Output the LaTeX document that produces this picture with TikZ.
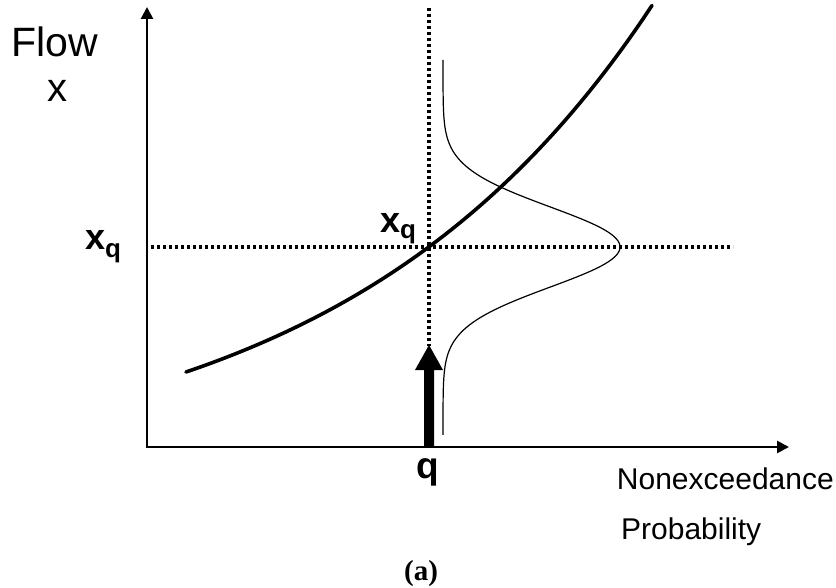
\documentclass[tikz,border=0pt]{standalone}
\usepackage{fontspec}
\setmainfont{Liberation Sans}
\newfontfamily\serifb{Liberation Serif}
\usetikzlibrary{arrows.meta}
\begin{document}
\begin{tikzpicture}[x=1pt,y=-1pt,
  axis/.style={line width=2.6pt,-{Triangle[width=12pt,length=12pt]}},
  dotline/.style={line width=3.5pt,dash pattern=on 3pt off 3pt},
  curve/.style={line width=3.6pt,line cap=round},
  pdfline/.style={line width=1.2pt},
  lbl/.style={inner sep=0pt,anchor=base}]
\useasboundingbox (0,0) rectangle (836,588);
\coordinate (O) at (147,447);
\coordinate (ytop) at (147,7);
\coordinate (xend) at (789,447);
\coordinate (vtop) at (429,8);
\coordinate (vbot) at (429,346);
\coordinate (hl) at (151,247);
\coordinate (hr) at (733,247);
% dotted guide lines
\draw[dotline] (vtop) -- (vbot);
\draw[dotline] (hl) -- (hr);
% axes
\draw[axis] (O) -- (ytop);
\draw[axis] ([xshift=-1.3pt]O) -- (xend);
% main curve
\draw[curve] plot[domain=0:466,samples=80,variable=\t]
  ({186+\t},{372-106.2*(exp(0.0032*\t)-1)});
% pdf
\draw[pdfline] plot[domain=60:435,samples=200,variable=\t]
  ({443+177*exp(-((\t-247)/40)^2/2)},{\t});
% thick arrow
\fill (424,447) -- (424,370) -- (415,370) -- (429,345) -- (443,370)
  -- (434,370) -- (434,447) -- cycle;
% labels
\node[lbl,anchor=base west] (flow) at (11,57) {\fontsize{41}{43}\selectfont Flow};
\node[lbl] (xlab) at (57,102) {\fontsize{40}{42}\selectfont x};
\node[lbl,anchor=base west] (xql) at (85,250)
  {\fontsize{36}{38}\selectfont\bfseries x\raisebox{-8pt}{\fontsize{26}{28}\selectfont q}};
\node[lbl,anchor=base west] (xqm) at (380,233)
  {\fontsize{36}{38}\selectfont\bfseries x\raisebox{-6pt}{\fontsize{26}{28}\selectfont q}};
\node[lbl] (qlab) at (428,478) {\fontsize{37}{39}\selectfont\bfseries q};
\node[lbl,anchor=base east] (nonex) at (834,489) {\fontsize{30}{32}\selectfont Nonexceedance};
\node[lbl,anchor=base west] (prob) at (621,539) {\fontsize{30}{32}\selectfont Probability};
\node[lbl] (cap) at (421,580) {\fontsize{29}{31}\selectfont\serifb\bfseries (a)};
\end{tikzpicture}
\end{document}
